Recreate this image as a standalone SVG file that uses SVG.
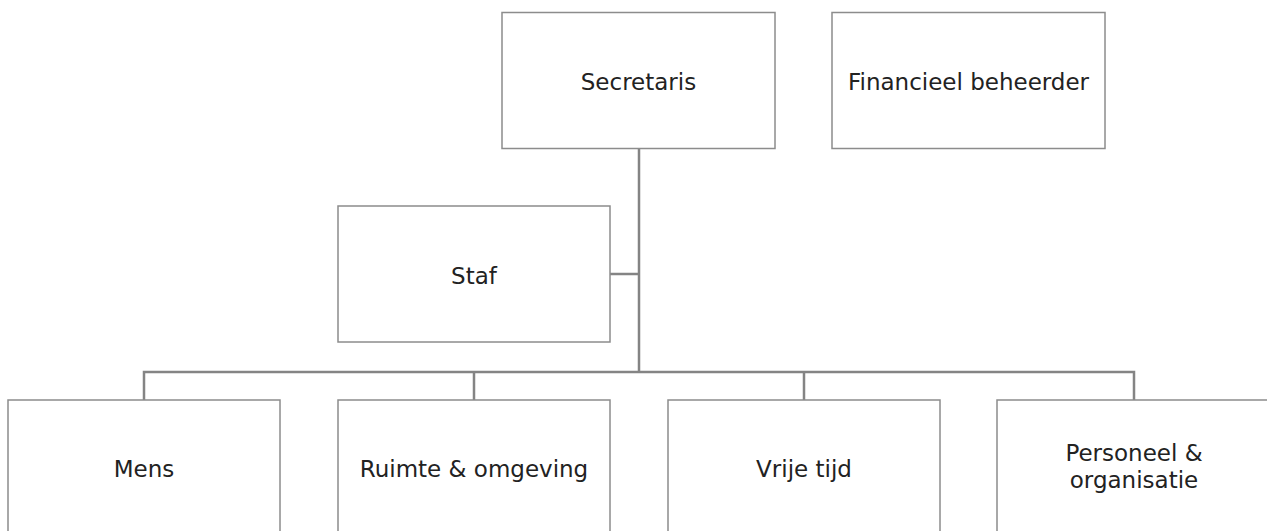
<svg xmlns="http://www.w3.org/2000/svg" width="1267" height="531" viewBox="0 0 1267 531">
<style>
.box{fill:#fff;stroke:#8c8c8c;stroke-width:1.5}
.lbl{font-family:"DejaVu Sans",Verdana,sans-serif;font-size:23px;fill:#222;text-anchor:middle}
.conn{fill:none;stroke:#848484;stroke-width:2.5}
</style>
<rect width="1267" height="531" fill="#fff"/>
<g id="connectors">
<path class="conn" d="M639 148V372M610 274H639M144 400V372H1134V400M474 372V400M804 372V400"/>
</g>
<g id="secretaris"><rect class="box" x="502" y="12.5" width="273" height="136"/><text class="lbl" x="638.5" y="90">Secretaris</text></g>
<g id="financieel"><rect class="box" x="832" y="12.5" width="273" height="136"/><text class="lbl" x="968.5" y="90">Financieel beheerder</text></g>
<g id="staf"><rect class="box" x="338" y="206" width="272" height="136"/><text class="lbl" x="474" y="284">Staf</text></g>
<g id="mens"><rect class="box" x="8" y="400" width="272" height="140"/><text class="lbl" x="144" y="477">Mens</text></g>
<g id="ruimte"><rect class="box" x="338" y="400" width="272" height="140"/><text class="lbl" x="474" y="477">Ruimte &amp; omgeving</text></g>
<g id="vrijetijd"><rect class="box" x="668" y="400" width="272" height="140"/><text class="lbl" x="804" y="477">Vrije tijd</text></g>
<g id="personeel"><rect class="box" x="997" y="400" width="273" height="140"/><text class="lbl" x="1134" y="461">Personeel &amp;</text><text class="lbl" x="1134" y="488">organisatie</text></g>
</svg>
